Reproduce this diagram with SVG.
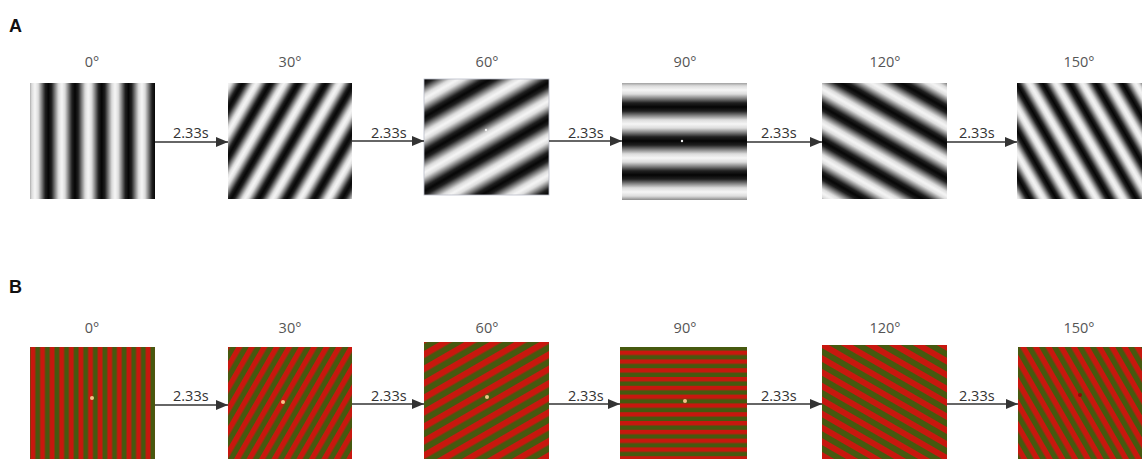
<svg xmlns="http://www.w3.org/2000/svg" width="1142" height="459" viewBox="0 0 1142 459">
<style>
.panel{font-family:"Liberation Sans",Arial,sans-serif;font-weight:bold;font-size:18px;fill:#111}
.deg{font-family:"Open Sans","Noto Sans",sans-serif;font-size:14.5px;fill:#555;text-anchor:middle}
.dur{font-family:"Open Sans","Noto Sans",sans-serif;font-size:14.5px;fill:#333}
.arr{stroke:#333;stroke-width:1.6;fill:none}
.dotw{fill:#f4f4f4}
.doty{fill:#f2c488}
</style>
<defs>
<linearGradient id="sine" x1="0" y1="0" x2="1" y2="0">
<stop offset="0" stop-color="#f6f6f6"/>
<stop offset="0.12" stop-color="#dcdcdc"/>
<stop offset="0.25" stop-color="#808080"/>
<stop offset="0.38" stop-color="#202020"/>
<stop offset="0.5" stop-color="#050505"/>
<stop offset="0.62" stop-color="#202020"/>
<stop offset="0.75" stop-color="#808080"/>
<stop offset="0.88" stop-color="#dcdcdc"/>
<stop offset="1" stop-color="#f6f6f6"/>
</linearGradient>
<pattern id="pA0" patternUnits="userSpaceOnUse" x="35" y="0" width="26.7" height="10"><rect width="26.7" height="10" fill="url(#sine)"/></pattern>
<pattern id="pA30" patternUnits="userSpaceOnUse" x="280" y="0" width="24" height="10" patternTransform="rotate(30 290 141)"><rect width="24" height="10" fill="url(#sine)"/></pattern>
<pattern id="pA60" patternUnits="userSpaceOnUse" x="486" y="0" width="32" height="10" patternTransform="rotate(60 486 137)"><rect width="32" height="10" fill="url(#sine)"/></pattern>
<pattern id="pA90" patternUnits="userSpaceOnUse" x="667" y="0" width="34" height="10" patternTransform="rotate(90 684 141)"><rect width="34" height="10" fill="url(#sine)"/></pattern>
<pattern id="pA120" patternUnits="userSpaceOnUse" x="870" y="0" width="30" height="10" patternTransform="rotate(120 884 141)"><rect width="30" height="10" fill="url(#sine)"/></pattern>
<pattern id="pA150" patternUnits="userSpaceOnUse" x="1070" y="0" width="23" height="10" patternTransform="rotate(150 1079 141)"><rect width="23" height="10" fill="url(#sine)"/></pattern>
<pattern id="pB0" patternUnits="userSpaceOnUse" x="30" y="0" width="9.6" height="10"><rect width="9.6" height="10" fill="#46590f"/><rect x="0.5" width="4.8" height="10" fill="#c8170e"/></pattern>
<pattern id="pB30" patternUnits="userSpaceOnUse" x="0" y="0" width="10.8" height="10" patternTransform="rotate(30 290 402)"><rect width="10.8" height="10" fill="#46590f"/><rect width="5.4" height="10" fill="#c8170e"/></pattern>
<pattern id="pB60" patternUnits="userSpaceOnUse" x="0" y="0" width="12.5" height="10" patternTransform="rotate(60 486 400)"><rect width="12.5" height="10" fill="#46590f"/><rect width="6.25" height="10" fill="#c8170e"/></pattern>
<pattern id="pB90" patternUnits="userSpaceOnUse" x="0" y="0" width="8.8" height="10" patternTransform="rotate(90 683 400)"><rect width="8.8" height="10" fill="#46590f"/><rect width="4.4" height="10" fill="#c8170e"/></pattern>
<pattern id="pB120" patternUnits="userSpaceOnUse" x="0" y="0" width="12" height="10" patternTransform="rotate(120 884 400)"><rect width="12" height="10" fill="#46590f"/><rect width="6" height="10" fill="#c8170e"/></pattern>
<pattern id="pB150" patternUnits="userSpaceOnUse" x="0" y="0" width="11" height="10" patternTransform="rotate(150 1080 400)"><rect width="11" height="10" fill="#46590f"/><rect width="5.5" height="10" fill="#c8170e"/></pattern>
<marker id="ah" markerWidth="12" markerHeight="10" refX="12" refY="5" orient="auto" markerUnits="userSpaceOnUse"><path d="M0,0 L12,5 L0,10 Z" fill="#333"/></marker>
</defs>
<rect width="1142" height="459" fill="#fff"/>
<text class="panel" x="9" y="32">A</text>
<text class="panel" x="9" y="293">B</text>
<g id="a-0"><text class="deg" x="92" y="67">0°</text><rect x="30" y="83" width="125" height="116" fill="url(#pA0)"/></g>
<g id="a-30"><text class="deg" x="290" y="67">30°</text><rect x="228" y="83" width="124" height="116" fill="url(#pA30)"/></g>
<g id="a-60"><text class="deg" x="487" y="67">60°</text><rect x="424" y="79" width="125" height="116" fill="url(#pA60)" stroke="#b8bcc8" stroke-width="0.8"/><circle class="dotw" cx="486" cy="130" r="1.2"/></g>
<g id="a-90"><text class="deg" x="685" y="67">90°</text><rect x="622" y="83" width="125" height="117" fill="url(#pA90)"/><circle class="dotw" cx="682" cy="141" r="1.2"/></g>
<g id="a-120"><text class="deg" x="885" y="67">120°</text><rect x="822" y="83" width="125" height="116" fill="url(#pA120)"/></g>
<g id="a-150"><text class="deg" x="1079" y="67">150°</text><rect x="1017" y="83" width="125" height="116" fill="url(#pA150)"/></g>
<g id="b-0"><text class="deg" x="92" y="333">0°</text><rect x="30" y="347" width="125" height="112" fill="url(#pB0)"/><circle class="doty" cx="92" cy="398" r="2"/></g>
<g id="b-30"><text class="deg" x="290" y="333">30°</text><rect x="228" y="347" width="124" height="112" fill="url(#pB30)"/><circle class="doty" cx="283" cy="402" r="2"/></g>
<g id="b-60"><text class="deg" x="487" y="333">60°</text><rect x="424" y="342" width="125" height="117" fill="url(#pB60)"/><circle class="doty" cx="487" cy="397" r="2"/></g>
<g id="b-90"><text class="deg" x="685" y="333">90°</text><rect x="620" y="347" width="127" height="112" fill="url(#pB90)"/><circle class="doty" cx="685" cy="401" r="2"/></g>
<g id="b-120"><text class="deg" x="885" y="333">120°</text><rect x="822" y="345" width="125" height="114" fill="url(#pB120)"/></g>
<g id="b-150"><text class="deg" x="1079" y="333">150°</text><rect x="1018" y="347" width="124" height="112" fill="url(#pB150)"/><circle cx="1080" cy="395" r="2" fill="#8a0a08"/></g>
<g id="connectors">
<line class="arr" x1="155" y1="142" x2="228" y2="142" marker-end="url(#ah)"/>
<line class="arr" x1="352" y1="141" x2="424" y2="141" marker-end="url(#ah)"/>
<line class="arr" x1="549" y1="141" x2="622" y2="141" marker-end="url(#ah)"/>
<line class="arr" x1="747" y1="142" x2="822" y2="142" marker-end="url(#ah)"/>
<line class="arr" x1="947" y1="142" x2="1017" y2="142" marker-end="url(#ah)"/>
<text class="dur" x="173" y="138">2.33s</text>
<text class="dur" x="371" y="138">2.33s</text>
<text class="dur" x="568" y="138">2.33s</text>
<text class="dur" x="761" y="138">2.33s</text>
<text class="dur" x="959" y="138">2.33s</text>
<line class="arr" x1="155" y1="405" x2="228" y2="405" marker-end="url(#ah)"/>
<line class="arr" x1="352" y1="404" x2="424" y2="404" marker-end="url(#ah)"/>
<line class="arr" x1="549" y1="404" x2="620" y2="404" marker-end="url(#ah)"/>
<line class="arr" x1="747" y1="404" x2="822" y2="404" marker-end="url(#ah)"/>
<line class="arr" x1="947" y1="404" x2="1018" y2="404" marker-end="url(#ah)"/>
<text class="dur" x="173" y="401">2.33s</text>
<text class="dur" x="371" y="401">2.33s</text>
<text class="dur" x="568" y="401">2.33s</text>
<text class="dur" x="761" y="401">2.33s</text>
<text class="dur" x="959" y="401">2.33s</text>
</g>
</svg>
